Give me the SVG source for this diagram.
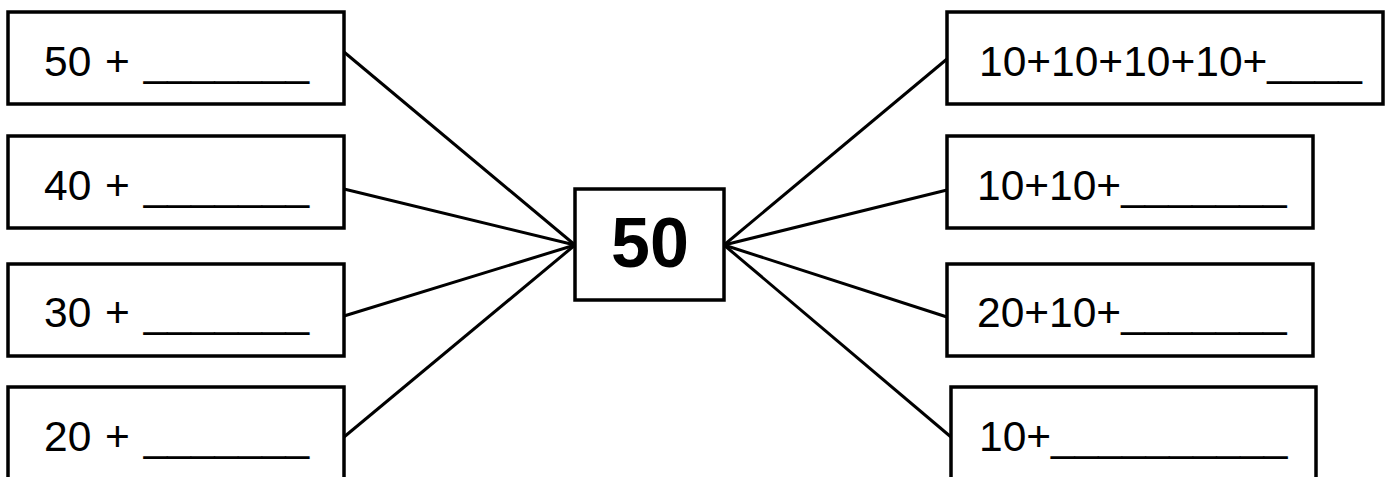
<svg xmlns="http://www.w3.org/2000/svg" width="1385" height="477" viewBox="0 0 1385 477">
<style>
.box{fill:#fff;stroke:#000;stroke-width:3.5}
.t{font-family:"Liberation Sans",Arial,sans-serif;font-size:42.5px;fill:#000}
.l{word-spacing:2px}
.c{font-family:"Liberation Sans",Arial,sans-serif;font-size:70px;font-weight:bold;fill:#000;text-anchor:middle}
.ln{stroke:#000;stroke-width:3;fill:none}
</style>
<rect width="1385" height="477" fill="#fff"/>
<g id="connectors">
<line class="ln" x1="344" y1="52" x2="575" y2="245"/>
<line class="ln" x1="344" y1="189" x2="575" y2="245"/>
<line class="ln" x1="344" y1="316" x2="575" y2="245"/>
<line class="ln" x1="344" y1="437" x2="575" y2="245"/>
<line class="ln" x1="724" y1="245" x2="947" y2="59"/>
<line class="ln" x1="724" y1="245" x2="947" y2="190"/>
<line class="ln" x1="724" y1="245" x2="947" y2="317"/>
<line class="ln" x1="724" y1="245" x2="951" y2="437"/>
</g>
<g id="center"><rect class="box" x="575" y="189" width="149" height="111"/><text class="c" x="650" y="267">50</text></g>
<g id="l1"><rect class="box" x="8" y="12" width="336" height="92"/><text class="t l" x="44" y="76">50 + _______</text></g>
<g id="l2"><rect class="box" x="8" y="136" width="336" height="92"/><text class="t l" x="44" y="200">40 + _______</text></g>
<g id="l3"><rect class="box" x="8" y="264" width="336" height="92"/><text class="t l" x="44" y="327">30 + _______</text></g>
<g id="l4"><rect class="box" x="8" y="387" width="336" height="100"/><text class="t l" x="44" y="451">20 + _______</text></g>
<g id="r1"><rect class="box" x="947" y="12" width="436" height="92"/><text class="t" x="979" y="76">10+10+10+10+____</text></g>
<g id="r2"><rect class="box" x="947" y="136" width="366" height="92"/><text class="t" x="977" y="200">10+10+_______</text></g>
<g id="r3"><rect class="box" x="947" y="264" width="366" height="92"/><text class="t" x="977" y="327">20+10+_______</text></g>
<g id="r4"><rect class="box" x="951" y="387" width="365" height="100"/><text class="t" x="979" y="451">10+__________</text></g>
</svg>
